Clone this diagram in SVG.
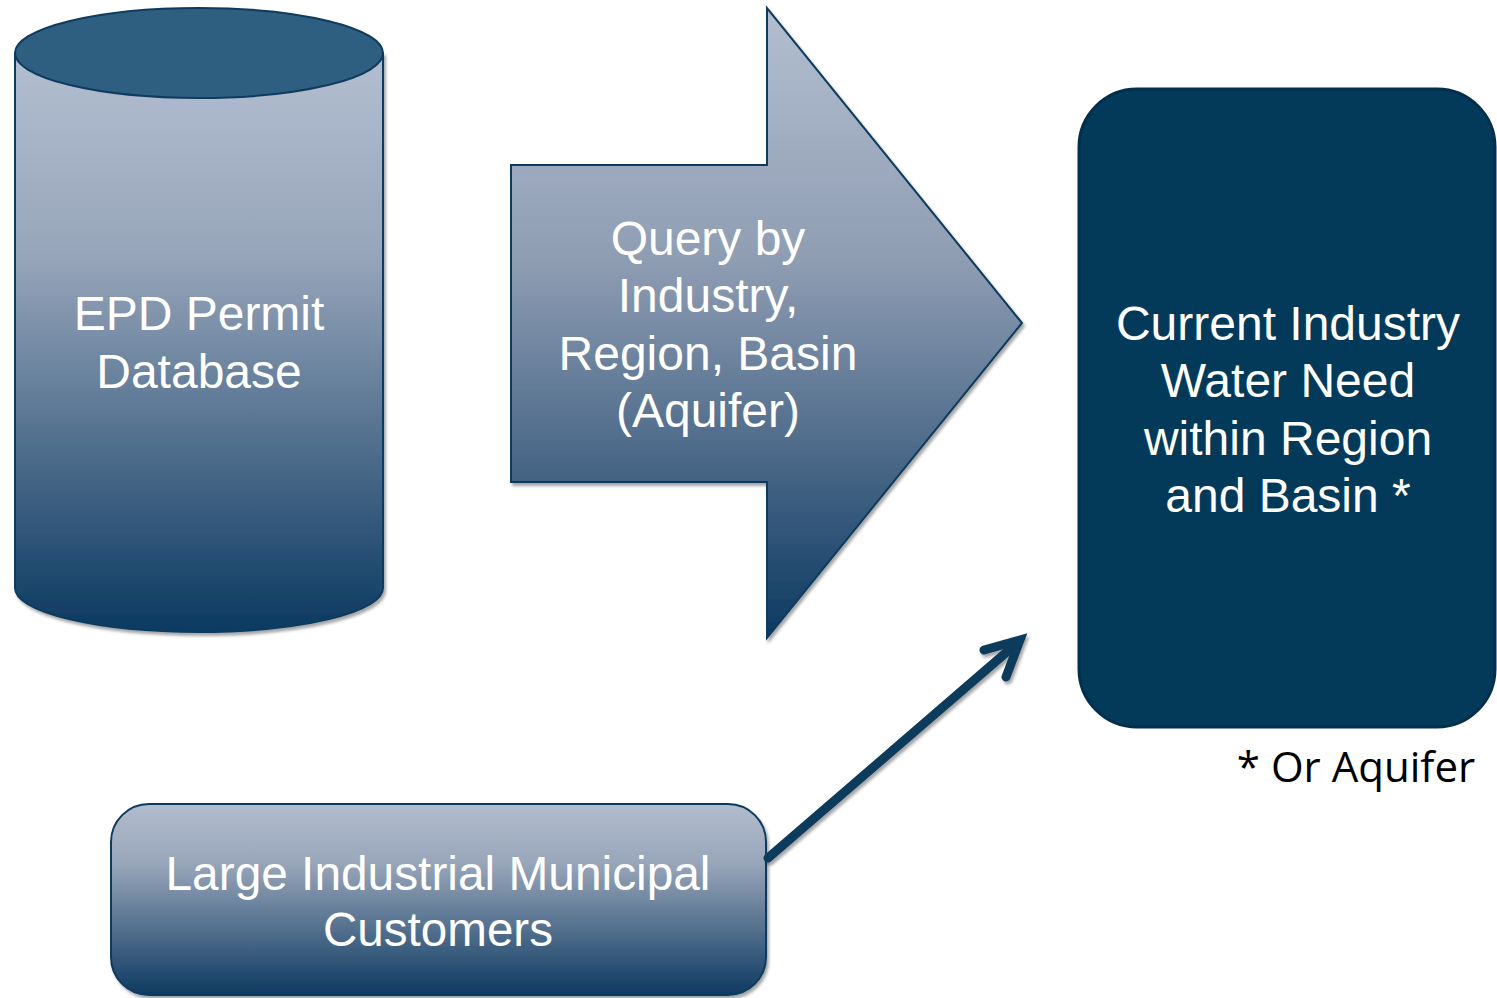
<svg xmlns="http://www.w3.org/2000/svg" width="1497" height="998" viewBox="0 0 1497 998">
<defs>
<linearGradient id="gCyl" x1="0" y1="0" x2="0" y2="1">
<stop offset="0" stop-color="#b3bed0"/>
<stop offset="0.35" stop-color="#97a5ba"/>
<stop offset="1" stop-color="#0b3961"/>
</linearGradient>
<linearGradient id="gArrow" x1="0" y1="0" x2="0" y2="1">
<stop offset="0" stop-color="#b3bed0"/>
<stop offset="0.4" stop-color="#8f9db3"/>
<stop offset="1" stop-color="#0c3961"/>
</linearGradient>
<linearGradient id="gBox" x1="0" y1="0" x2="0" y2="1">
<stop offset="0" stop-color="#b1bccd"/>
<stop offset="0.3" stop-color="#9aa7bb"/>
<stop offset="1" stop-color="#0e3a61"/>
</linearGradient>
<filter id="sh" x="-10%" y="-10%" width="120%" height="120%">
<feDropShadow dx="2" dy="3" stdDeviation="1.5" flood-color="#000" flood-opacity="0.35"/>
</filter>
<style>
.lbl{font-family:"Liberation Sans",Arial,sans-serif;font-size:48px;fill:#ffffff;text-anchor:middle}
.edge{stroke:#0e3b5e;stroke-width:2}
</style>
</defs>

<g id="database">
<path d="M15,53 L15,588 A184,44 0 0 0 383,588 L383,53 Z" fill="url(#gCyl)" class="edge" filter="url(#sh)"/>
<ellipse cx="199" cy="53" rx="184" ry="45" fill="#2f5f80" class="edge"/>
<text class="lbl" x="199" y="330">EPD Permit</text>
<text class="lbl" x="199" y="388">Database</text>
</g>

<g id="query-arrow">
<path d="M511,165 L767,165 L767,8 L1022,323 L767,638 L767,482 L511,482 Z" fill="url(#gArrow)" class="edge" filter="url(#sh)"/>
<text class="lbl" x="708" y="255">Query by</text>
<text class="lbl" x="708" y="312">Industry,</text>
<text class="lbl" x="708" y="370">Region, Basin</text>
<text class="lbl" x="708" y="427">(Aquifer)</text>
</g>

<g id="result">
<rect x="1079" y="89" width="416" height="638" rx="58" ry="58" fill="#033a5a" stroke="#022f4b" stroke-width="3"/>
<text class="lbl" x="1288" y="340">Current Industry</text>
<text class="lbl" x="1288" y="397">Water Need</text>
<text class="lbl" x="1288" y="455">within Region</text>
<text class="lbl" x="1288" y="512">and Basin *</text>
</g>

<g id="note">
<text x="1356" y="782" font-family="'Open Sans','Noto Sans',sans-serif" font-size="42" fill="#000" text-anchor="middle">* Or Aquifer</text>
</g>

<g id="customers">
<rect x="111" y="804" width="655" height="191" rx="38" ry="38" fill="url(#gBox)" class="edge" filter="url(#sh)"/>
<text class="lbl" x="438" y="890" textLength="545" lengthAdjust="spacingAndGlyphs">Large Industrial Municipal</text>
<text class="lbl" x="438" y="946" textLength="230" lengthAdjust="spacingAndGlyphs">Customers</text>
</g>

<g id="connectors" filter="url(#sh)">
<line x1="768" y1="858" x2="1016" y2="644" stroke="#0a3a5c" stroke-width="9" stroke-linecap="round"/>
<polyline points="984,650 1020,640 1006,677" fill="none" stroke="#0a3a5c" stroke-width="9" stroke-linecap="round" stroke-linejoin="miter"/>
</g>
</svg>
